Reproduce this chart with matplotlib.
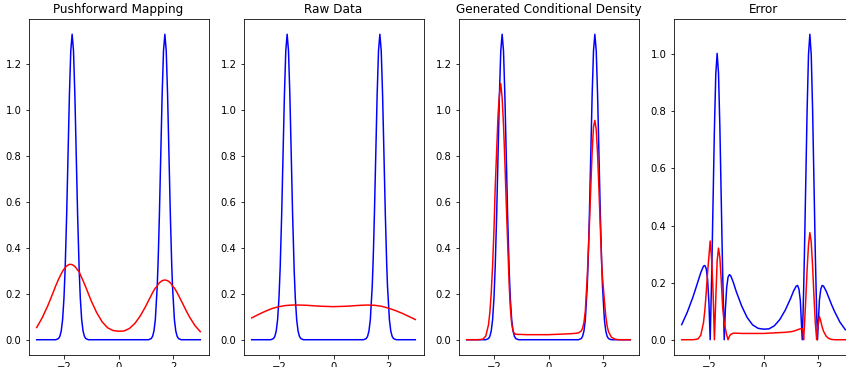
import numpy as np
import matplotlib.pyplot as plt

# values
x = [-3.0, -2.8, -2.6, -2.5, -2.4, -2.3, -2.2, -2.15, -2.1, -2.05,
     -2.0, -1.955, -1.9, -1.85, -1.8, -1.75, -1.7, -1.65, -1.6, -1.55,
     -1.5, -1.44, -1.4, -1.35, -1.3, -1.25, -1.2, -1.1, -1.0, -0.8,
     -0.6, -0.4, -0.2, 0.0, 0.2, 0.4, 0.6, 0.8, 1.0, 1.1,
     1.2, 1.25, 1.3, 1.35, 1.42, 1.45, 1.47, 1.5, 1.55, 1.6,
     1.65, 1.7, 1.75, 1.8, 1.85, 1.9, 1.95, 1.98, 2.05, 2.1,
     2.15, 2.2, 2.3, 2.4, 2.5, 2.6, 2.8, 3.0]

true_density = [0.000, 0.000, 0.000, 0.000, 0.000, 0.000, 0.005, 0.015, 0.038, 0.087,
                0.180, 0.314, 0.547, 0.807, 1.065, 1.258, 1.330, 1.258, 1.065, 0.807,
                0.547, 0.296, 0.180, 0.087, 0.038, 0.015, 0.005, 0.000, 0.000, 0.000,
                0.000, 0.000, 0.000, 0.000, 0.000, 0.000, 0.000, 0.000, 0.000, 0.000,
                0.005, 0.015, 0.038, 0.087, 0.233, 0.332, 0.411, 0.547, 0.807, 1.065,
                1.258, 1.330, 1.258, 1.065, 0.807, 0.547, 0.332, 0.233, 0.087, 0.038,
                0.015, 0.005, 0.000, 0.000, 0.000, 0.000, 0.000, 0.000]

pushforward_density = [0.053, 0.095, 0.146, 0.175, 0.205, 0.235, 0.263, 0.275, 0.287, 0.298,
                       0.307, 0.314, 0.321, 0.325, 0.328, 0.328, 0.327, 0.323, 0.319, 0.312,
                       0.303, 0.296, 0.283, 0.270, 0.257, 0.243, 0.229, 0.199, 0.169, 0.118,
                       0.078, 0.052, 0.040, 0.037, 0.038, 0.049, 0.071, 0.104, 0.146, 0.170,
                       0.193, 0.205, 0.215, 0.225, 0.233, 0.241, 0.244, 0.248, 0.253, 0.257,
                       0.259, 0.260, 0.259, 0.257, 0.253, 0.248, 0.241, 0.233, 0.225, 0.215,
                       0.205, 0.193, 0.170, 0.146, 0.122, 0.100, 0.062, 0.035]

generated_density = [0.000, 0.000, 0.000, 0.001, 0.003, 0.016, 0.065, 0.119, 0.203, 0.322,
                     0.474, 0.660, 0.826, 0.977, 1.065, 1.115, 1.054, 0.937, 0.777, 0.598,
                     0.430, 0.235, 0.140, 0.070, 0.038, 0.027, 0.024, 0.023, 0.023, 0.022,
                     0.022, 0.022, 0.022, 0.022, 0.023, 0.024, 0.025, 0.026, 0.028, 0.030,
                     0.038, 0.050, 0.075, 0.125, 0.272, 0.360, 0.411, 0.499, 0.664, 0.817,
                     0.926, 0.955, 0.916, 0.807, 0.654, 0.489, 0.332, 0.270, 0.169, 0.103,
                     0.060, 0.035, 0.012, 0.004, 0.001, 0.000, 0.000, 0.000]

raw_x = [-3.0, -2.75, -2.5, -2.25, -2.0, -1.75, -1.5, -1.25, -1.0, -0.75, -0.5, -0.25, 0.0,
         0.25, 0.5, 0.75, 1.0, 1.25, 1.5, 1.75, 2.0, 2.25, 2.5, 2.75, 3.0]
raw_density = [0.095, 0.110, 0.124, 0.136, 0.144, 0.149, 0.151, 0.151, 0.150, 0.148, 0.146, 0.145, 0.144,
               0.145, 0.146, 0.148, 0.150, 0.151, 0.150, 0.146, 0.138, 0.128, 0.116, 0.102, 0.088]

titles = ['Pushforward Mapping', 'Raw Data', 'Generated Conditional Density', 'Error']

true_arr = np.array(true_density)
push_error = np.abs(true_arr - np.array(pushforward_density))
gen_error = np.abs(true_arr - np.array(generated_density))

W, H = 846, 367
fig = plt.figure(figsize=(W / 72, H / 72), dpi=72)
lefts = [28.5, 243.5, 458.5, 673.5]
axes = [fig.add_axes([l / W, 12 / H, 180 / W, 336 / H]) for l in lefts]

axes[0].plot(x, true_density, color='b')
axes[0].plot(x, pushforward_density, color='r')

axes[1].plot(x, true_density, color='b')
axes[1].plot(raw_x, raw_density, color='r')

axes[2].plot(x, true_density, color='b')
axes[2].plot(x, generated_density, color='r')

axes[3].plot(x, push_error, color='b')
axes[3].plot(x, gen_error, color='r')

for ax, t in zip(axes, titles):
    ax.set_title(t)

fig.savefig('out.png', dpi=72)
